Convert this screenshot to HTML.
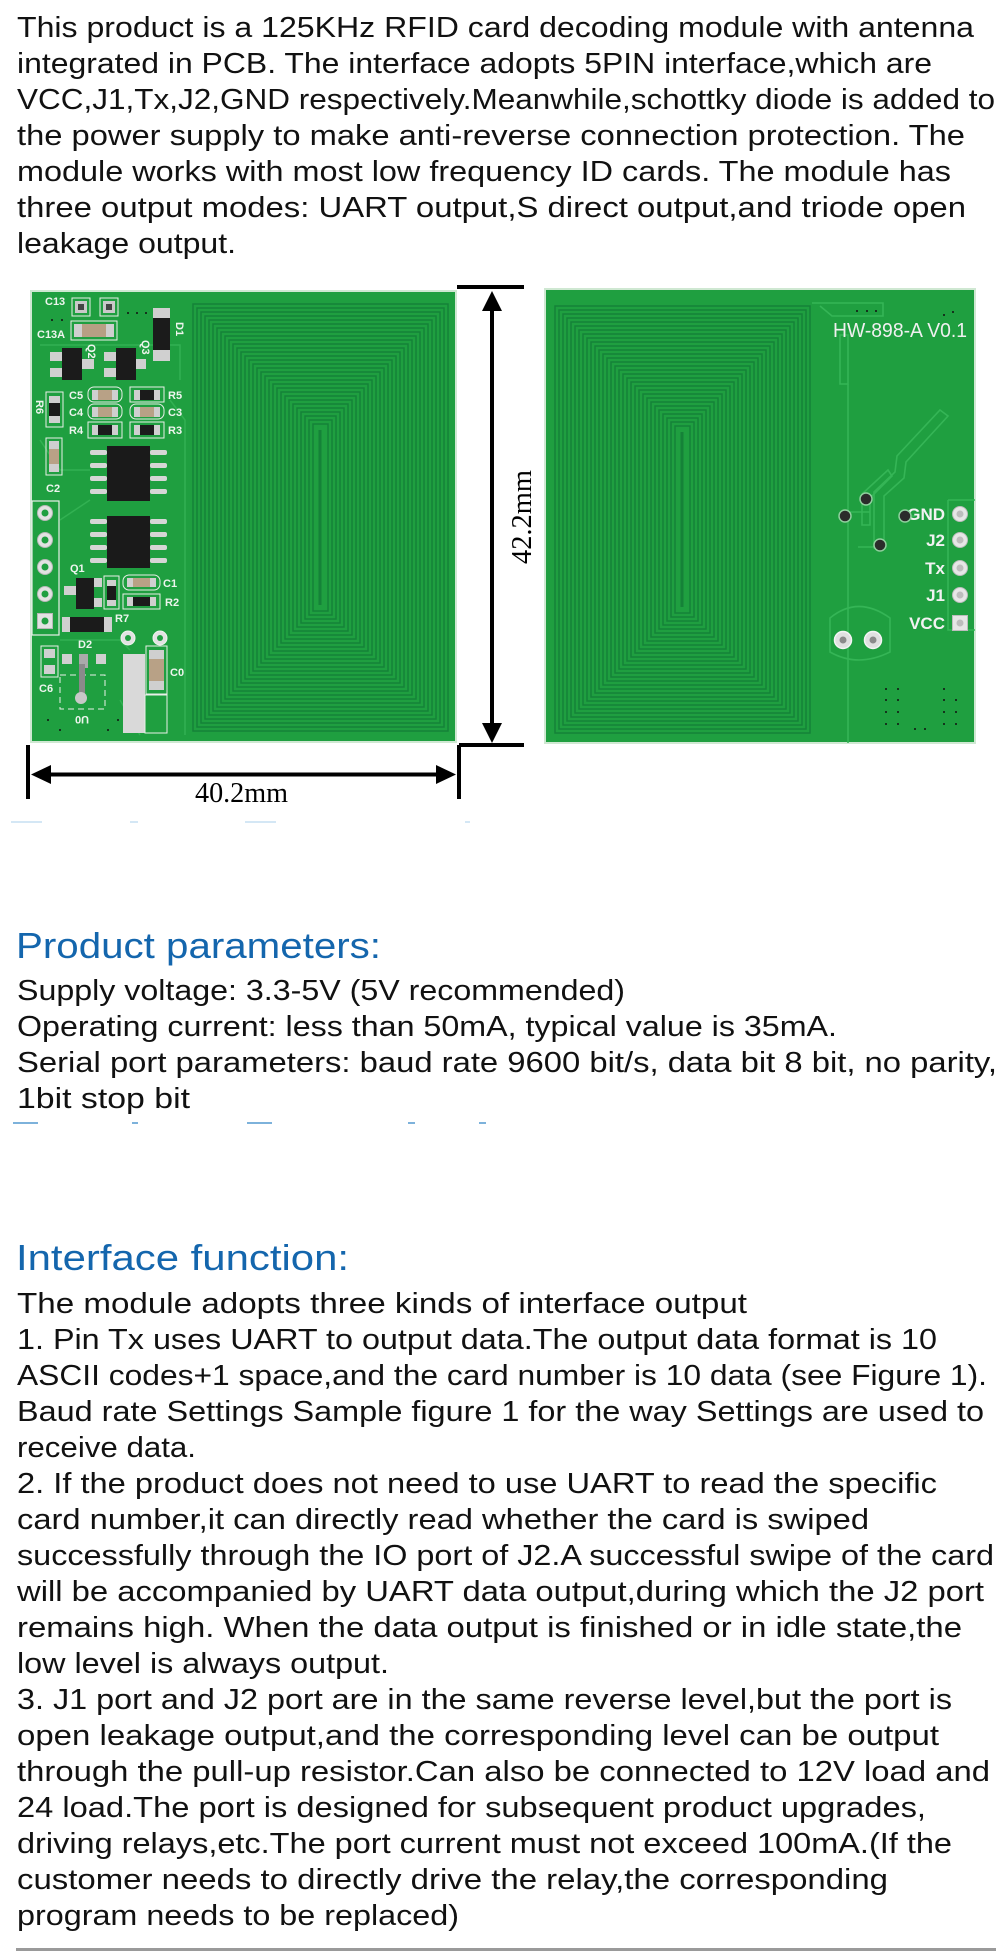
<!DOCTYPE html>
<html><head><meta charset="utf-8"><style>
html,body{margin:0;padding:0;background:#fff;}
svg{display:block;}
.t{font-family:"Liberation Sans",sans-serif;font-size:29px;fill:#111;}
.h{font-family:"Liberation Sans",sans-serif;font-size:36px;fill:#1466ad;}
.lb{font-family:"Liberation Sans",sans-serif;font-size:11px;font-weight:bold;fill:#eef5ee;}
.pl{font-family:"Liberation Sans",sans-serif;font-size:17px;font-weight:bold;fill:#f2f2f2;}
.dm{font-family:"Liberation Serif",serif;font-size:28px;fill:#000;}
</style></head><body>
<svg width="1000" height="1952" viewBox="0 0 1000 1952" xmlns="http://www.w3.org/2000/svg">
<defs>
<g id="rings" fill="none" stroke="#158238" stroke-width="1.5">
<rect x="193" y="304" width="255" height="427"/><rect x="197" y="308" width="247" height="419"/>
<rect x="201" y="312" width="239" height="411"/><rect x="205" y="316" width="231" height="403"/>
<rect x="209" y="320" width="223" height="395"/><rect x="213" y="324" width="215" height="387"/>
<rect x="217" y="328" width="207" height="379"/><rect x="221" y="332" width="199" height="371"/>
<rect x="225" y="336" width="191" height="363"/><rect x="229" y="340" width="183" height="355"/>
<rect x="233" y="344" width="175" height="347"/><rect x="237" y="348" width="167" height="339"/>
<rect x="241" y="352" width="159" height="331"/><rect x="245" y="356" width="151" height="323"/>
<rect x="249" y="360" width="143" height="315"/><rect x="253" y="364" width="135" height="307"/>
<rect x="257" y="368" width="127" height="299"/><rect x="261" y="372" width="119" height="291"/>
<rect x="265" y="376" width="111" height="283"/><rect x="269" y="380" width="103" height="275"/>
<rect x="273" y="384" width="95" height="267"/><rect x="277" y="388" width="87" height="259"/>
<rect x="281" y="392" width="79" height="251"/><rect x="285" y="396" width="71" height="243"/>
<rect x="289" y="400" width="63" height="235"/><rect x="293" y="404" width="55" height="227"/>
<rect x="297" y="408" width="47" height="219"/><rect x="301" y="412" width="39" height="211"/>
<rect x="305" y="416" width="31" height="203"/><rect x="309" y="420" width="23" height="195"/>
<rect x="313" y="424" width="15" height="187"/>
<line x1="320" y1="430" x2="320" y2="605" stroke-width="3"/>
</g>
</defs>

<!-- Paragraph 1 -->
<text class="t" x="17" y="37" textLength="957" lengthAdjust="spacingAndGlyphs">This product is a 125KHz RFID card decoding module with antenna</text>
<text class="t" x="17" y="73" textLength="915" lengthAdjust="spacingAndGlyphs">integrated in PCB. The interface adopts 5PIN interface,which are</text>
<text class="t" x="17" y="109" textLength="978" lengthAdjust="spacingAndGlyphs">VCC,J1,Tx,J2,GND respectively.Meanwhile,schottky diode is added to</text>
<text class="t" x="17" y="145" textLength="948" lengthAdjust="spacingAndGlyphs">the power supply to make anti-reverse connection protection. The</text>
<text class="t" x="17" y="181" textLength="934" lengthAdjust="spacingAndGlyphs">module works with most low frequency ID cards. The module has</text>
<text class="t" x="17" y="217" textLength="949" lengthAdjust="spacingAndGlyphs">three output modes: UART output,S direct output,and triode open</text>
<text class="t" x="17" y="253" textLength="219" lengthAdjust="spacingAndGlyphs">leakage output.</text>

<!-- LEFT BOARD -->
<rect x="31" y="291" width="425" height="451" fill="#1f9f40" stroke="#cfe8d2" stroke-width="2"/>
<use href="#rings"/>
<!-- trace outlines -->
<g fill="none" stroke="#32b152" stroke-width="1.5">
<path d="M40 345 H180 V380 M40 440 L60 470 H90 M90 500 L60 520 M170 400 L185 420 V735 M60 640 H120 L130 650 M120 700 L140 735"/>
</g>
<!-- C13 pads -->
<text class="lb" x="45" y="305">C13</text>
<rect x="72" y="298" width="18" height="18" fill="none" stroke="#e8efe8" stroke-width="1"/>
<rect x="75" y="301" width="12" height="12" fill="#c9c9c9"/><rect x="78" y="304" width="6" height="6" fill="#444"/>
<rect x="100" y="298" width="18" height="18" fill="none" stroke="#e8efe8" stroke-width="1"/>
<rect x="103" y="301" width="12" height="12" fill="#c9c9c9"/><rect x="106" y="304" width="6" height="6" fill="#444"/>
<text class="lb" x="37" y="338">C13A</text>
<rect x="71" y="321" width="46" height="19" fill="none" stroke="#e8efe8" stroke-width="1"/>
<rect x="74" y="324" width="40" height="13" fill="#cfcfcf"/><rect x="82" y="324" width="24" height="13" fill="#b79f84"/>
<!-- D1 -->
<rect x="153" y="308" width="17" height="53" fill="#d0d0d0"/><rect x="153" y="318" width="17" height="32" fill="#1b1b1b"/>
<text class="lb" x="176" y="322" transform="rotate(90 176 322)">D1</text>
<!-- Q2 Q3 -->
<rect x="50" y="352" width="12" height="9" fill="#d0d0d0"/><rect x="50" y="368" width="12" height="9" fill="#d0d0d0"/><rect x="82" y="359" width="12" height="10" fill="#d0d0d0"/>
<rect x="62" y="348" width="20" height="32" fill="#1b1b1b"/>
<text class="lb" x="88" y="344" transform="rotate(90 88 344)">Q2</text>
<rect x="104" y="352" width="12" height="9" fill="#d0d0d0"/><rect x="104" y="368" width="12" height="9" fill="#d0d0d0"/><rect x="134" y="359" width="12" height="10" fill="#d0d0d0"/>
<rect x="116" y="348" width="20" height="32" fill="#1b1b1b"/>
<text class="lb" x="142" y="340" transform="rotate(90 142 340)">Q3</text>
<!-- passives rows -->
<g stroke="#e8efe8" stroke-width="1" fill="none">
<rect x="88" y="387" width="34" height="15" rx="6"/><rect x="130" y="387" width="34" height="15"/>
<rect x="88" y="404" width="34" height="15" rx="6"/><rect x="130" y="404" width="34" height="15" rx="6"/>
<rect x="88" y="422" width="34" height="16"/><rect x="130" y="422" width="34" height="16"/>
</g>
<rect x="92" y="390" width="26" height="10" fill="#cfcfcf"/><rect x="98" y="390" width="14" height="10" fill="#b8a186"/>
<rect x="134" y="390" width="26" height="10" fill="#cfcfcf"/><rect x="140" y="390" width="14" height="10" fill="#1b1b1b"/>
<rect x="92" y="407" width="26" height="10" fill="#cfcfcf"/><rect x="98" y="407" width="14" height="10" fill="#b8a186"/>
<rect x="134" y="407" width="26" height="10" fill="#cfcfcf"/><rect x="140" y="407" width="14" height="10" fill="#b8a186"/>
<rect x="92" y="425" width="26" height="10" fill="#cfcfcf"/><rect x="98" y="425" width="14" height="10" fill="#1b1b1b"/>
<rect x="134" y="425" width="26" height="10" fill="#cfcfcf"/><rect x="140" y="425" width="14" height="10" fill="#1b1b1b"/>
<text class="lb" x="69" y="399">C5</text><text class="lb" x="69" y="416">C4</text><text class="lb" x="69" y="434">R4</text>
<text class="lb" x="168" y="399">R5</text><text class="lb" x="168" y="416">C3</text><text class="lb" x="168" y="434">R3</text>
<!-- R6 -->
<rect x="46" y="392" width="17" height="35" fill="none" stroke="#e8efe8"/>
<rect x="49" y="396" width="11" height="27" fill="#cfcfcf"/><rect x="49" y="403" width="11" height="13" fill="#1b1b1b"/>
<text class="lb" x="36" y="400" transform="rotate(90 36 400)">R6</text>
<!-- C2 -->
<rect x="46" y="438" width="16" height="37" fill="none" stroke="#e8efe8"/>
<rect x="49" y="441" width="10" height="31" fill="#cfcfcf"/><rect x="49" y="449" width="10" height="15" fill="#b8a186"/>
<text class="lb" x="46" y="492">C2</text>
<!-- ICs -->
<g fill="#d6d6d6">
<rect x="90" y="450" width="17" height="5" rx="2"/><rect x="90" y="463" width="17" height="5" rx="2"/><rect x="90" y="476" width="17" height="5" rx="2"/><rect x="90" y="489" width="17" height="5" rx="2"/>
<rect x="150" y="450" width="17" height="5" rx="2"/><rect x="150" y="463" width="17" height="5" rx="2"/><rect x="150" y="476" width="17" height="5" rx="2"/><rect x="150" y="489" width="17" height="5" rx="2"/>
<rect x="90" y="519" width="17" height="5" rx="2"/><rect x="90" y="532" width="17" height="5" rx="2"/><rect x="90" y="545" width="17" height="5" rx="2"/><rect x="90" y="558" width="17" height="5" rx="2"/>
<rect x="150" y="519" width="17" height="5" rx="2"/><rect x="150" y="532" width="17" height="5" rx="2"/><rect x="150" y="545" width="17" height="5" rx="2"/><rect x="150" y="558" width="17" height="5" rx="2"/>
</g>
<rect x="107" y="446" width="43" height="55" fill="#1a1a1a"/>
<rect x="107" y="516" width="43" height="52" fill="#1a1a1a"/>
<!-- header -->
<rect x="32" y="501" width="27" height="134" fill="none" stroke="#e8efe8" stroke-width="1.2"/>
<g fill="#e2e2e2" stroke="#b9b9b9">
<circle cx="45" cy="513" r="7.5"/><circle cx="45" cy="540" r="7.5"/><circle cx="45" cy="567" r="7.5"/><circle cx="45" cy="594" r="7.5"/><rect x="37.5" y="613.5" width="15" height="15"/>
</g>
<g fill="#1f9f40"><circle cx="45" cy="513" r="3.5"/><circle cx="45" cy="540" r="3.5"/><circle cx="45" cy="567" r="3.5"/><circle cx="45" cy="594" r="3.5"/><circle cx="45" cy="621" r="3.5"/></g>
<!-- Q1 area -->
<text class="lb" x="70" y="572">Q1</text>
<rect x="64" y="586" width="12" height="9" fill="#d0d0d0"/><rect x="92" y="578" width="10" height="9" fill="#d0d0d0"/><rect x="92" y="598" width="10" height="9" fill="#d0d0d0"/>
<rect x="76" y="578" width="18" height="31" fill="#1b1b1b"/>
<rect x="104" y="576" width="15" height="33" fill="none" stroke="#e8efe8"/>
<rect x="107" y="580" width="9" height="26" fill="#cfcfcf"/><rect x="107" y="586" width="9" height="14" fill="#1b1b1b"/>
<rect x="123" y="575" width="37" height="15" rx="6" fill="none" stroke="#e8efe8"/>
<rect x="127" y="578" width="29" height="9" fill="#cfcfcf"/><rect x="133" y="578" width="17" height="9" fill="#b8a186"/>
<text class="lb" x="163" y="587">C1</text>
<rect x="123" y="594" width="37" height="15" fill="none" stroke="#e8efe8"/>
<rect x="127" y="597" width="29" height="9" fill="#cfcfcf"/><rect x="133" y="597" width="17" height="9" fill="#1b1b1b"/>
<text class="lb" x="165" y="606">R2</text>
<!-- D2 -->
<rect x="62" y="617" width="50" height="15" fill="#d0d0d0"/><rect x="70" y="617" width="34" height="15" fill="#1b1b1b"/>
<text class="lb" x="115" y="622">R7</text>
<text class="lb" x="78" y="648">D2</text>
<circle cx="128" cy="638" r="7" fill="#e2e2e2" stroke="#eef5ee"/><circle cx="128" cy="638" r="3" fill="#1f9f40"/>
<circle cx="160" cy="638" r="7" fill="#e2e2e2" stroke="#eef5ee"/><circle cx="160" cy="638" r="3" fill="#1f9f40"/>
<!-- C6 -->
<rect x="41" y="646" width="17" height="31" fill="none" stroke="#e8efe8"/>
<rect x="44" y="649" width="11" height="9" fill="#d0d0d0"/><rect x="44" y="665" width="11" height="9" fill="#d0d0d0"/>
<text class="lb" x="39" y="692">C6</text>
<!-- U0 -->
<rect x="62" y="654" width="10" height="10" fill="#d0d0d0"/><rect x="79" y="654" width="9" height="14" fill="#aaa"/><rect x="96" y="654" width="10" height="10" fill="#d0d0d0"/>
<rect x="60" y="675" width="45" height="34" fill="none" stroke="#e8efe8" stroke-dasharray="6 4"/>
<rect x="79" y="664" width="6" height="30" fill="#8a8a8a"/><circle cx="81" cy="698" r="6" fill="#c8c8c8"/>
<text class="lb" x="82" y="716" transform="rotate(180 82 716)" text-anchor="middle">U0</text>
<!-- silver strip / C0 -->
<rect x="123" y="654" width="22" height="79" fill="#d9d9d9"/>
<rect x="145" y="695" width="22" height="38" fill="none" stroke="#e8efe8"/>
<rect x="146" y="646" width="21" height="48" fill="none" stroke="#e8efe8"/>
<rect x="149" y="650" width="15" height="40" fill="#cfcfcf"/><rect x="149" y="659" width="15" height="22" fill="#b8a186"/>
<text class="lb" x="170" y="676">C0</text>
<g fill="#111"><circle cx="52" cy="320" r="1"/><circle cx="62" cy="320" r="1"/><circle cx="128" cy="313" r="1"/><circle cx="137" cy="313" r="1"/><circle cx="146" cy="313" r="1"/><circle cx="48" cy="720" r="1"/><circle cx="60" cy="730" r="1"/><circle cx="118" cy="720" r="1"/><circle cx="108" cy="730" r="1"/></g>

<!-- dimension lines -->
<rect x="457" y="285" width="67" height="4" fill="#000"/>
<rect x="459" y="743" width="65" height="4" fill="#000"/>
<rect x="490" y="305" width="4" height="424" fill="#000"/>
<polygon points="492,291 482,311 502,311" fill="#000"/>
<polygon points="492,743 482,723 502,723" fill="#000"/>
<rect x="26" y="745" width="4" height="54" fill="#000"/>
<rect x="457" y="745" width="4" height="54" fill="#000"/>
<rect x="45" y="772.5" width="398" height="4" fill="#000"/>
<polygon points="31,774.5 51,765 51,784" fill="#000"/>
<polygon points="456,774.5 436,765 436,784" fill="#000"/>
<text class="dm" x="195" y="802" textLength="93" lengthAdjust="spacingAndGlyphs">40.2mm</text>
<text class="dm" x="0" y="0" textLength="94" lengthAdjust="spacingAndGlyphs" transform="translate(531 564) rotate(-90)">42.2mm</text>

<!-- RIGHT BOARD -->
<rect x="545" y="289" width="430" height="454" fill="#1f9f40" stroke="#cfe8d2" stroke-width="2"/>
<g transform="translate(362 2)"><use href="#rings"/></g>
<g fill="none" stroke="#35b556" stroke-width="1.6">
<path d="M812 303 H883 V316 H832 L820 306"/>
<path d="M840 335 V384 H848 V335 Z"/>
<path d="M848 384 V743"/>
<path d="M940 410 L948 416 L906 462 L904 478 L884 496 L884 548 L874 548 L874 492 L895 472 L897 456 Z"/>
<path d="M888 470 L892 476 L870 498 V525 L862 525 V494 Z"/>
<path d="M848 512 H870 M900 516 H915 M858 547 H880"/>
<path d="M830 618 Q858 595 890 618 V652 Q858 668 830 652 Z"/>
<path d="M948 500 H975 M948 500 V630 H975"/>
</g>
<text x="833" y="337" font-family="Liberation Sans, sans-serif" font-size="20" fill="#f0f0f0" textLength="134" lengthAdjust="spacingAndGlyphs">HW-898-A V0.1</text>
<text class="pl" x="945" y="520" text-anchor="end">GND</text>
<text class="pl" x="945" y="546" text-anchor="end">J2</text>
<text class="pl" x="945" y="574" text-anchor="end">Tx</text>
<text class="pl" x="945" y="601" text-anchor="end">J1</text>
<text class="pl" x="945" y="629" text-anchor="end">VCC</text>
<g fill="#e6e6e6" stroke="#bdbdbd">
<circle cx="960" cy="514" r="7.5"/><circle cx="960" cy="540" r="7.5"/><circle cx="960" cy="568" r="7.5"/><circle cx="960" cy="595" r="7.5"/><rect x="952.5" y="615.5" width="15" height="15"/>
</g>
<g fill="#bdbdbd"><circle cx="960" cy="514" r="3.5"/><circle cx="960" cy="540" r="3.5"/><circle cx="960" cy="568" r="3.5"/><circle cx="960" cy="595" r="3.5"/><circle cx="960" cy="623" r="3.5"/></g>
<g fill="#2b2b2b" stroke="#8fcf9d" stroke-width="1.5">
<circle cx="866" cy="499" r="6"/><circle cx="845" cy="516" r="6"/><circle cx="905" cy="516" r="6"/><circle cx="880" cy="545" r="6"/>
</g>
<g fill="#e0e0e0" stroke="#f4f4f4" stroke-width="1.5">
<circle cx="843" cy="640" r="8.5"/><circle cx="873" cy="640" r="8.5"/>
</g>
<g fill="#8a8a8a"><circle cx="843" cy="640" r="3.5"/><circle cx="873" cy="640" r="3.5"/></g>
<g fill="#111">
<circle cx="886" cy="689" r="1"/><circle cx="898" cy="689" r="1"/><circle cx="886" cy="700" r="1"/><circle cx="898" cy="700" r="1"/><circle cx="886" cy="712" r="1"/><circle cx="898" cy="712" r="1"/><circle cx="886" cy="724" r="1"/><circle cx="898" cy="724" r="1"/>
<circle cx="944" cy="689" r="1"/><circle cx="944" cy="700" r="1"/><circle cx="956" cy="700" r="1"/><circle cx="944" cy="712" r="1"/><circle cx="956" cy="712" r="1"/><circle cx="944" cy="724" r="1"/><circle cx="956" cy="724" r="1"/>
<circle cx="915" cy="729" r="1"/><circle cx="925" cy="729" r="1"/>
<circle cx="857" cy="311" r="1"/><circle cx="867" cy="311" r="1"/><circle cx="876" cy="311" r="1"/><circle cx="944" cy="315" r="1"/><circle cx="953" cy="312" r="1"/>
</g>

<!-- faint clipped heading bars -->
<g fill="#d4e7f5">
<rect x="11" y="821" width="31" height="2"/><rect x="130" y="821" width="8" height="2"/><rect x="245" y="821" width="31" height="2"/><rect x="465" y="821" width="5" height="2"/>
</g>

<!-- Product parameters -->
<text class="h" x="16" y="958" textLength="365" lengthAdjust="spacingAndGlyphs">Product parameters:</text>
<text class="t" x="17" y="1000" textLength="608" lengthAdjust="spacingAndGlyphs">Supply voltage: 3.3-5V (5V recommended)</text>
<text class="t" x="17" y="1036" textLength="820" lengthAdjust="spacingAndGlyphs">Operating current: less than 50mA, typical value is 35mA.</text>
<text class="t" x="17" y="1072" textLength="980" lengthAdjust="spacingAndGlyphs">Serial port parameters: baud rate 9600 bit/s, data bit 8 bit, no parity,</text>
<text class="t" x="17" y="1108" textLength="173" lengthAdjust="spacingAndGlyphs">1bit stop bit</text>

<g fill="#7db2db">
<rect x="13" y="1122" width="25" height="2"/><rect x="132" y="1122" width="6" height="2"/><rect x="247" y="1122" width="25" height="2"/><rect x="408" y="1122" width="7" height="2"/><rect x="479" y="1122" width="7" height="2"/>
</g>

<!-- Interface function -->
<text class="h" x="16" y="1270" textLength="333" lengthAdjust="spacingAndGlyphs">Interface function:</text>
<text class="t" x="17" y="1313" textLength="730" lengthAdjust="spacingAndGlyphs">The module adopts three kinds of interface output</text>
<text class="t" x="17" y="1349" textLength="920" lengthAdjust="spacingAndGlyphs">1. Pin Tx uses UART to output data.The output data format is 10</text>
<text class="t" x="17" y="1385" textLength="970" lengthAdjust="spacingAndGlyphs">ASCII codes+1 space,and the card number is 10 data (see Figure 1).</text>
<text class="t" x="17" y="1421" textLength="967" lengthAdjust="spacingAndGlyphs">Baud rate Settings Sample figure 1 for the way Settings are used to</text>
<text class="t" x="17" y="1457" textLength="179" lengthAdjust="spacingAndGlyphs">receive data.</text>
<text class="t" x="17" y="1493" textLength="920" lengthAdjust="spacingAndGlyphs">2. If the product does not need to use UART to read the specific</text>
<text class="t" x="17" y="1529" textLength="852" lengthAdjust="spacingAndGlyphs">card number,it can directly read whether the card is swiped</text>
<text class="t" x="17" y="1565" textLength="977" lengthAdjust="spacingAndGlyphs">successfully through the IO port of J2.A successful swipe of the card</text>
<text class="t" x="17" y="1601" textLength="967" lengthAdjust="spacingAndGlyphs">will be accompanied by UART data output,during which the J2 port</text>
<text class="t" x="17" y="1637" textLength="945" lengthAdjust="spacingAndGlyphs">remains high. When the data output is finished or in idle state,the</text>
<text class="t" x="17" y="1673" textLength="372" lengthAdjust="spacingAndGlyphs">low level is always output.</text>
<text class="t" x="17" y="1709" textLength="935" lengthAdjust="spacingAndGlyphs">3. J1 port and J2 port are in the same reverse level,but the port is</text>
<text class="t" x="17" y="1745" textLength="922" lengthAdjust="spacingAndGlyphs">open leakage output,and the corresponding level can be output</text>
<text class="t" x="17" y="1781" textLength="973" lengthAdjust="spacingAndGlyphs">through the pull-up resistor.Can also be connected to 12V load and</text>
<text class="t" x="17" y="1817" textLength="909" lengthAdjust="spacingAndGlyphs">24 load.The port is designed for subsequent product upgrades,</text>
<text class="t" x="17" y="1853" textLength="935" lengthAdjust="spacingAndGlyphs">driving relays,etc.The port current must not exceed 100mA.(If the</text>
<text class="t" x="17" y="1889" textLength="871" lengthAdjust="spacingAndGlyphs">customer needs to directly drive the relay,the corresponding</text>
<text class="t" x="17" y="1925" textLength="442" lengthAdjust="spacingAndGlyphs">program needs to be replaced)</text>

<rect x="16" y="1948" width="980" height="3" fill="#9a9a9a"/>
</svg>
</body></html>
